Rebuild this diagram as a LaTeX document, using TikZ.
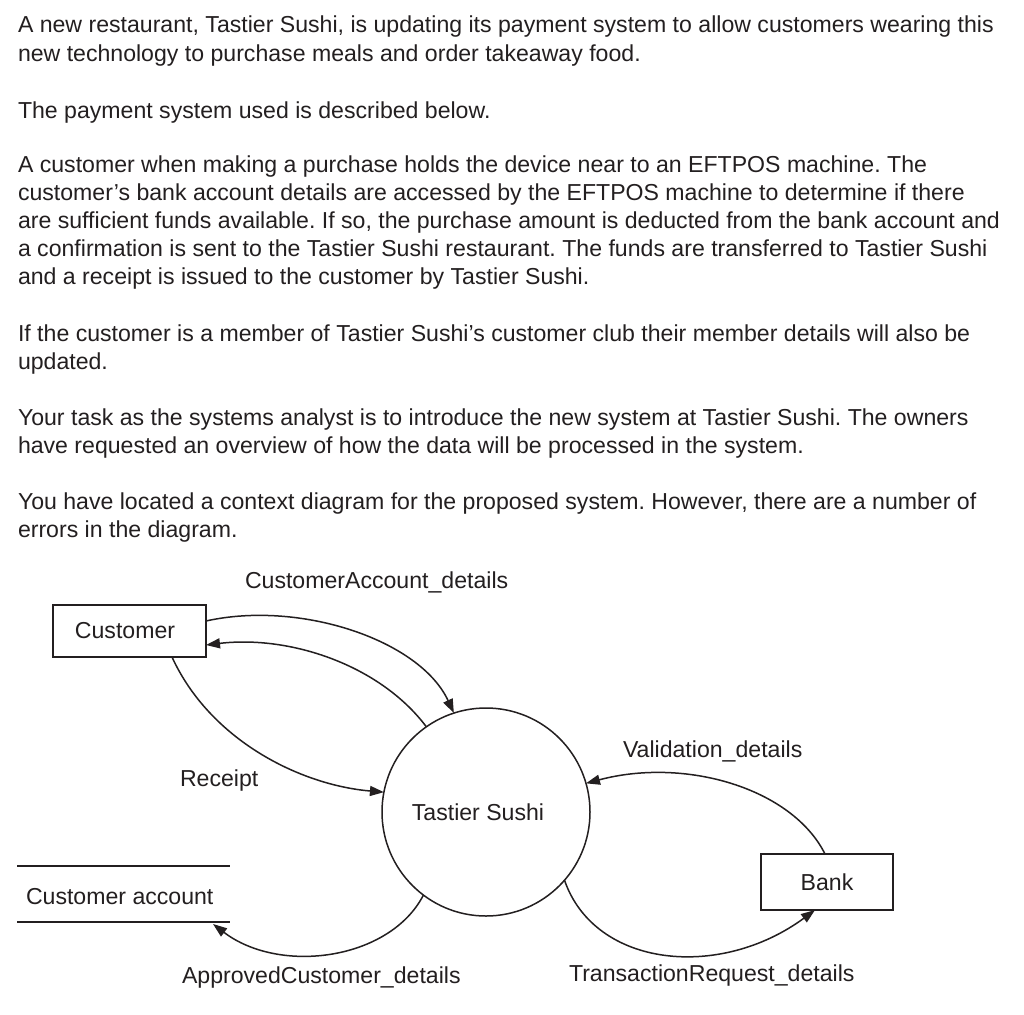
\documentclass[tikz,border=0pt]{standalone}
\usepackage{fontspec}
\setmainfont{Liberation Sans}
\usetikzlibrary{arrows.meta}
\definecolor{ink}{RGB}{35,31,32}
\frenchspacing
\begin{document}
\begin{tikzpicture}[x=1pt,y=-1pt,
  every node/.style={font=\fontsize{23.1}{28}\selectfont, text=ink, inner sep=0pt, outer sep=0pt},
  txt/.style={anchor=base west},
  flow/.style={draw=ink, line width=1.5pt, -{Triangle[length=14pt,width=10pt]}},
  ent/.style={draw=ink, line width=1.5pt, minimum width=153pt, minimum height=52pt},
  storeline/.style={draw=ink, line width=1.5pt}]
\useasboundingbox[fill=white] (0,0) rectangle (1024,1014);

% body text
\node[txt] (l1) at (18,33) {A new restaurant, Tastier Sushi, is updating its payment system to allow customers wearing this};
\node[txt] (l2) at (18,62) {new technology to purchase meals and order takeaway food.};
\node[txt] (l3) at (18,118) {The payment system used is described below.};
\node[txt] (l4) at (18,172) {A customer when making a purchase holds the device near to an EFTPOS machine. The};
\node[txt] (l5) at (18,200) {customer’s bank account details are accessed by the EFTPOS machine to determine if there};
\node[txt] (l6) at (18,228) {are sufficient funds available. If so, the purchase amount is deducted from the bank account and};
\node[txt] (l7) at (18,256) {a confirmation is sent to the Tastier Sushi restaurant. The funds are transferred to Tastier Sushi};
\node[txt] (l8) at (18,284) {and a receipt is issued to the customer by Tastier Sushi.};
\node[txt] (l9) at (18,341) {If the customer is a member of Tastier Sushi’s customer club their member details will also be};
\node[txt] (l10) at (18,369) {updated.};
\node[txt] (l11) at (18,425) {Your task as the systems analyst is to introduce the new system at Tastier Sushi. The owners};
\node[txt] (l12) at (18,453) {have requested an overview of how the data will be processed in the system.};
\node[txt] (l13) at (18,509) {You have located a context diagram for the proposed system. However, there are a number of};
\node[txt] (l14) at (18,537) {errors in the diagram.};

% diagram nodes
\node[ent] (cust) at (129.5,631) {\hspace*{-9pt}Customer};
\node[ent, minimum width=132pt, minimum height=56pt] (bank) at (827,882) {Bank};
\node[draw=ink, line width=1.5pt, circle, minimum size=208pt] (ts) at (486,812) {\hspace*{-16pt}Tastier Sushi};

% data store
\coordinate (sa1) at (17,866);
\coordinate (sa2) at (230,866);
\coordinate (sb1) at (17,922);
\coordinate (sb2) at (230,922);
\coordinate (acc) at (213,924);
\draw[storeline] (sa1) -- (sa2);
\draw[storeline] (sb1) -- (sb2);
\node[txt] (store) at (26,904) {Customer account};

% flows
\draw[flow] ([yshift=10pt]cust.east) .. controls (300,600) and (420,640) .. (ts.108.8);
\draw[flow] (ts.125.7) .. controls (380,665) and (290,635) .. ([yshift=-14pt]cust.east);
\draw[flow] ([xshift=42.5pt]cust.south) .. controls (210,740) and (300,785) .. (ts.169);
\draw[flow] ([xshift=-2pt]bank.north) .. controls (792,788) and (685,757) .. (ts.16);
\draw[flow] (ts.-41.6) .. controls (595,968) and (720,980) .. ([xshift=-12pt]bank.south);
\draw[flow] (ts.233) .. controls (390,960) and (280,975) .. (acc);

% flow labels
\node[txt] (lca) at (245,588) {CustomerAccount\_details};
\node[txt] (lr) at (180,786) {Receipt};
\node[txt] (lv) at (623,757) {Validation\_details};
\node[txt] (lac) at (182,983) {ApprovedCustomer\_details};
\node[txt] (ltr) at (569,981) {TransactionRequest\_details};
\end{tikzpicture}
\end{document}
